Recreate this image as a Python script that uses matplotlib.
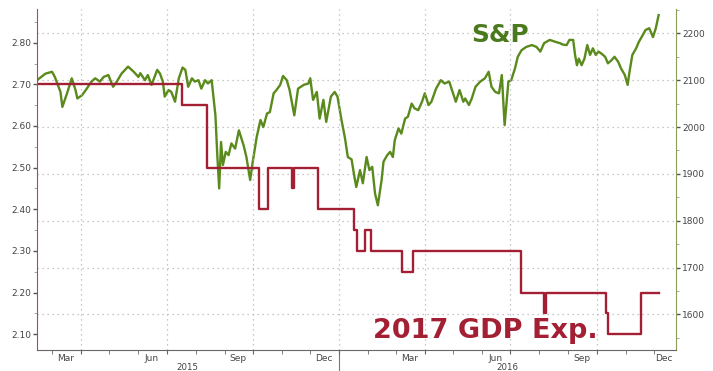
import matplotlib
matplotlib.use('Agg')
import matplotlib.pyplot as plt
import matplotlib.dates as mdates
from matplotlib.ticker import MultipleLocator, FormatStrFormatter, NullFormatter
import pandas as pd

# S&P 500 (right axis)
sp_dates = ['2015-02-13', '2015-02-22', '2015-03-01', '2015-03-04', '2015-03-10', '2015-03-12', '2015-03-17',
            '2015-03-22', '2015-03-26', '2015-03-28', '2015-04-02', '2015-04-07', '2015-04-12', '2015-04-16',
            '2015-04-21', '2015-04-25', '2015-04-30', '2015-05-05', '2015-05-09', '2015-05-14', '2015-05-21',
            '2015-05-27', '2015-06-01', '2015-06-03', '2015-06-08', '2015-06-11', '2015-06-15', '2015-06-21',
            '2015-06-24', '2015-06-27', '2015-06-29', '2015-07-03', '2015-07-06', '2015-07-10', '2015-07-14',
            '2015-07-18', '2015-07-21', '2015-07-24', '2015-07-28', '2015-07-31', '2015-08-04', '2015-08-07',
            '2015-08-11', '2015-08-14', '2015-08-18', '2015-08-22', '2015-08-24', '2015-08-26', '2015-08-28',
            '2015-08-30', '2015-09-02', '2015-09-05', '2015-09-08', '2015-09-12', '2015-09-16', '2015-09-21',
            '2015-09-24', '2015-09-28', '2015-10-01', '2015-10-05', '2015-10-09', '2015-10-12', '2015-10-16',
            '2015-10-19', '2015-10-23', '2015-10-26', '2015-10-30', '2015-11-02', '2015-11-06', '2015-11-09',
            '2015-11-14', '2015-11-18', '2015-11-24', '2015-11-29', '2015-12-01', '2015-12-04', '2015-12-08',
            '2015-12-11', '2015-12-15', '2015-12-18', '2015-12-23', '2015-12-27', '2015-12-30',
            '2016-01-03', '2016-01-07', '2016-01-10', '2016-01-14', '2016-01-17', '2016-01-19', '2016-01-23',
            '2016-01-26', '2016-01-30', '2016-02-02', '2016-02-05', '2016-02-08', '2016-02-11', '2016-02-15',
            '2016-02-17', '2016-02-21', '2016-02-24', '2016-02-27', '2016-02-29', '2016-03-04', '2016-03-07',
            '2016-03-11', '2016-03-14', '2016-03-18', '2016-03-21', '2016-03-25', '2016-03-29', '2016-04-01',
            '2016-04-05', '2016-04-08', '2016-04-13', '2016-04-18', '2016-04-22', '2016-04-27', '2016-05-01',
            '2016-05-04', '2016-05-08', '2016-05-12', '2016-05-14', '2016-05-18', '2016-05-21', '2016-05-25',
            '2016-05-30', '2016-06-04', '2016-06-08', '2016-06-11', '2016-06-15', '2016-06-19', '2016-06-22',
            '2016-06-25', '2016-06-29', '2016-07-02', '2016-07-06', '2016-07-09', '2016-07-13', '2016-07-18',
            '2016-07-24', '2016-07-29', '2016-08-02', '2016-08-06', '2016-08-12', '2016-08-18', '2016-08-23',
            '2016-08-26', '2016-08-30', '2016-09-02', '2016-09-06', '2016-09-08', '2016-09-10', '2016-09-12',
            '2016-09-15', '2016-09-18', '2016-09-21', '2016-09-24', '2016-09-27', '2016-09-30', '2016-10-03',
            '2016-10-06', '2016-10-10', '2016-10-13', '2016-10-17', '2016-10-20', '2016-10-24', '2016-10-27',
            '2016-10-31', '2016-11-03', '2016-11-05', '2016-11-08', '2016-11-12', '2016-11-15', '2016-11-19',
            '2016-11-22', '2016-11-26', '2016-11-30', '2016-12-03', '2016-12-06']
sp_values = [2100, 2114, 2118, 2107, 2075, 2043, 2072,
             2104, 2079, 2061, 2068, 2082, 2097, 2104,
             2097, 2107, 2111, 2086, 2097, 2114, 2129,
             2118, 2107, 2115, 2100, 2111, 2090, 2122,
             2114, 2097, 2065, 2079, 2075, 2054, 2104,
             2127, 2122, 2086, 2104, 2097, 2100, 2082,
             2100, 2093, 2100, 2025, 1940, 1869, 1968,
             1919, 1947, 1940, 1965, 1954, 1993, 1961,
             1936, 1887, 1929, 1979, 2015, 2000, 2029,
             2032, 2072, 2079, 2090, 2109, 2100, 2079,
             2025, 2082, 2090, 2093, 2104, 2058, 2075,
             2018, 2058, 2011, 2065, 2075, 2065,
             2018, 1976, 1936, 1931, 1894, 1872, 1908,
             1880, 1936, 1908, 1915, 1858, 1833, 1887,
             1926, 1940, 1947, 1936, 1972, 1997, 1986,
             2018, 2022, 2050, 2040, 2036, 2054, 2072,
             2047, 2054, 2082, 2100, 2093, 2097, 2072,
             2054, 2079, 2054, 2061, 2047, 2061, 2086,
             2097, 2104, 2118, 2086, 2075, 2072, 2111,
             2004, 2097, 2100, 2125, 2150, 2164, 2171,
             2175, 2171, 2161, 2179, 2186, 2182, 2179,
             2176, 2175, 2186, 2186, 2154, 2132, 2146,
             2132, 2146, 2175, 2154, 2168, 2154, 2161,
             2157, 2150, 2136, 2143, 2150, 2139, 2125,
             2111, 2090, 2118, 2154, 2168, 2182, 2196,
             2207, 2211, 2192, 2211, 2239]

# 2017 GDP expectation (left axis), value changes
gdp_dates = ['2015-02-13', '2015-07-17', '2015-08-13', '2015-10-07', '2015-10-17', '2015-11-12',
             '2015-11-14', '2015-12-09', '2016-01-17', '2016-01-20', '2016-01-28', '2016-02-04',
             '2016-03-08', '2016-03-19', '2016-07-12', '2016-08-06', '2016-08-08', '2016-10-11',
             '2016-10-13', '2016-11-17', '2016-12-06']
gdp_values = [2.70, 2.65, 2.50, 2.40, 2.50, 2.45,
              2.50, 2.40, 2.35, 2.30, 2.35, 2.30,
              2.25, 2.30, 2.20, 2.15, 2.20, 2.15,
              2.10, 2.20, 2.20]

month_labels = ['Mar', 'Jun', 'Sep', 'Dec', 'Mar', 'Jun', 'Sep', 'Dec']
month_label_dates = ['2015-03-16', '2015-06-15', '2015-09-15', '2015-12-16',
                     '2016-03-16', '2016-06-15', '2016-09-15', '2016-12-12']
year_labels = ['2015', '2016']
year_label_dates = ['2015-07-23', '2016-06-28']

green = '#5a8a1c'
red = '#a31f33'

fig = plt.figure(figsize=(7.13, 3.71), dpi=100)
ax = fig.add_axes([37 / 713, 21 / 371, 639 / 713, 341 / 371])
ax2 = ax.twinx()
ax.set_zorder(ax2.get_zorder() + 1)
ax.patch.set_visible(False)

ax2.plot(pd.to_datetime(sp_dates), sp_values, color=green, lw=1.7)
ax.step(pd.to_datetime(gdp_dates), gdp_values, where='post', color=red, lw=1.7)

ax.set_xlim(pd.Timestamp('2015-02-13'), pd.Timestamp('2016-12-24 12:00'))
ax.set_ylim(2.062, 2.881)
ax2.set_ylim(1524, 2252)

# left axis
ax.yaxis.set_major_locator(MultipleLocator(0.1))
ax.yaxis.set_minor_locator(MultipleLocator(0.05))
ax.yaxis.set_major_formatter(FormatStrFormatter('%.2f'))
ax.tick_params(axis='y', which='major', length=3, width=1, color='#555555',
               labelsize=6.5, labelcolor='#444444', pad=1)
ax.tick_params(axis='y', which='minor', length=2, color='#999999')

# right axis
ax2.yaxis.set_major_locator(MultipleLocator(100))
ax2.yaxis.set_minor_locator(MultipleLocator(50))
ax2.tick_params(axis='y', which='major', length=3, width=1, color='#555555',
                labelsize=6.5, labelcolor='#444444', pad=1.5)
ax2.tick_params(axis='y', which='minor', length=2, color='#999999')

# x axis: quarter gridlines, monthly ticks
ax.xaxis.set_major_locator(mdates.MonthLocator(bymonth=[1, 4, 7, 10]))
ax.xaxis.set_minor_locator(mdates.MonthLocator())
ax.xaxis.set_major_formatter(NullFormatter())
ax.tick_params(axis='x', which='both', length=3, color='#666666')

grid_style = dict(color='#b5b5b5', linestyle=(0, (1, 3)), linewidth=0.9)
ax.set_axisbelow(True)
ax.grid(axis='x', which='major', **grid_style)
ax2.grid(axis='y', which='major', **grid_style)

sec = ax.secondary_xaxis('bottom')
sec.set_xticks(mdates.date2num(pd.to_datetime(month_label_dates)), month_labels)
sec.tick_params(length=0, pad=3, labelsize=6.5, labelcolor='#444444')
sec.spines['bottom'].set_visible(False)

sec2 = ax.secondary_xaxis('bottom')
sec2.set_xticks(mdates.date2num(pd.to_datetime(year_label_dates)), year_labels)
sec2.set_xticks(mdates.date2num(pd.to_datetime(['2016-01-01'])), minor=True)
sec2.tick_params(which='major', length=0, pad=9.5, labelsize=6.2, labelcolor='#444444')
sec2.tick_params(which='minor', length=16, width=0.8, color='#777777')
sec2.spines['bottom'].set_visible(False)

# spines
for s in ['top', 'right']:
    ax.spines[s].set_visible(False)
for s in ['top', 'left', 'bottom']:
    ax2.spines[s].set_visible(False)
ax.spines['left'].set_color('#b0485a')
ax.spines['bottom'].set_color('#666666')
ax2.spines['right'].set_color('#8a9e5a')

ax.text(0.680, 0.902, 'S&P', transform=ax.transAxes, color='#4b7a1e',
        fontsize=17.8, fontweight='bold', ha='left', va='baseline')
ax.text(0.526, 0.034, '2017 GDP Exp.', transform=ax.transAxes, color=red,
        fontsize=19.5, fontweight='bold', ha='left', va='baseline')

fig.savefig('out.png', dpi=100)
